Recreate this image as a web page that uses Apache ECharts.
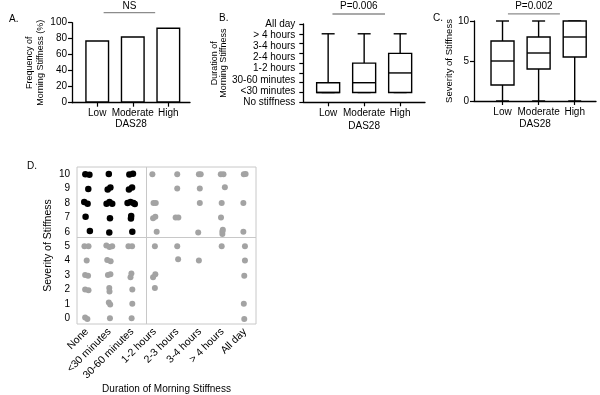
<!DOCTYPE html>
<html><head><meta charset="utf-8">
<script src="https://cdn.jsdelivr.net/npm/echarts@6/dist/echarts.min.js"></script>
<style>html,body{margin:0;padding:0;background:#fff}#c{width:600px;height:395px}</style>
</head><body><div id="c"></div>
<script>
// ---------- data ----------
const das28 = ['Low', 'Moderate', 'High'];
const freqPct = [78, 83, 94];
const durationLabels = ['No stiffness', '<30 minutes', '30-60 minutes', '1-2 hours', '2-4 hours', '3-4 hours', '> 4 hours', 'All day'];
// [min, q1, median, q3, max] on tick scale 0..8
const durationBoxes = [[1, 1, 1, 2, 7], [1, 1, 2, 4, 7], [1, 1, 3, 5, 7]];
const severityBoxes = [[0, 2, 5, 7.5, 10], [0, 4, 6, 8, 10], [0, 5.5, 8, 10, 10]];
const durationCats = ['None', '<30 minutes', '30-60 minutes', '1-2 hours', '2-3 hours', '3-4 hours', '> 4 hours', 'All day'];
const severityTicks = [0, 1, 2, 3, 4, 5, 6, 7, 8, 9, 10];
// significance brackets: [fromX, toX, lineY, textY]
const sigTexts = ['NS', 'P=0.006', 'P=0.002'];
const sigA = [[0.18, 1.63, 112.5, 120.5]];
const sigB = [[0.12, 1.58, 9.02, 9.85]];
const sigC = [[0.15, 1.59, 10.9, 11.9]];
// panel D points [duration index (jittered), severity (jittered)]
const blackPts = [
  [-0.07, 10.0], [0.11, 9.97], [0.97, 10.02], [1.88, 9.98], [2.04, 10.03],
  [0.06, 8.97], [0.92, 8.93], [1.04, 9.07], [1.86, 8.93], [2.0, 9.07],
  [-0.12, 8.07], [0.03, 7.95], [0.87, 7.95], [1.0, 8.07], [1.12, 7.95], [1.8, 8.0], [1.93, 8.07], [2.06, 8.0], [2.12, 7.93],
  [-0.06, 7.05], [1.02, 6.95], [1.95, 6.93], [1.96, 7.1],
  [0.13, 6.05], [0.99, 5.95], [2.01, 6.0]
];
const grayPts = [
  [2.9, 10.0], [2.95, 8.0], [3.05, 8.0], [2.93, 6.95], [3.03, 7.05], [3.09, 6.0], [3.01, 5.0], [2.93, 2.85], [3.03, 3.05], [3.01, 2.1],
  [4.0, 10.0], [4.0, 9.0], [3.93, 7.0], [4.05, 7.0], [4.0, 5.0], [4.04, 4.1],
  [4.96, 10.0], [5.04, 10.0], [5.0, 9.0], [5.0, 8.0], [4.93, 5.95], [4.96, 4.0],
  [5.93, 10.0], [6.05, 10.0], [6.11, 9.1], [5.97, 8.0], [5.94, 7.0], [6.0, 5.85], [6.0, 6.02], [6.02, 6.15], [5.97, 5.0],
  [6.95, 10.0], [7.03, 10.02], [6.93, 8.0], [6.93, 6.0], [7.0, 5.0], [7.0, 4.0], [6.97, 2.95], [6.95, 1.0], [6.97, -0.05],
  [-0.11, 5.0], [0.07, 5.0], [0.86, 5.05], [1.0, 4.95], [1.12, 5.0], [1.84, 5.0], [2.0, 5.0],
  [-0.01, 4.0], [0.9, 4.05], [1.05, 3.95],
  [-0.08, 3.0], [0.05, 2.95], [0.93, 3.0], [1.04, 3.05], [1.93, 2.85], [1.97, 3.1],
  [-0.08, 2.0], [0.07, 1.95], [0.99, 2.1], [1.0, 1.85], [2.01, 2.0],
  [0.97, 1.1], [1.03, 0.95], [2.01, 1.0],
  [-0.08, 0.05], [0.02, -0.05], [1.02, 0.0], [1.98, 0.0]
];
const dividerX = 2.65, dividerY = 5.65;

// ---------- rendering ----------
const FONT = "'Liberation Sans', Arial, sans-serif";
const txt = {color: '#000', fontFamily: FONT, fontSize: 10};
const blackLine = {onZero: false, lineStyle: {color: '#000', width: 1.3}};

function boxRender(params, api) {
  const x = api.value(0);
  const p = [1, 2, 3, 4, 5].map(i => api.coord([x, api.value(i)]));
  const [pMin, pQ1, pMd, pQ3, pMax] = p;
  const hw = 11.5, cw = 6.5;
  const st = {stroke: '#000', lineWidth: 1.4, fill: null};
  return {type: 'group', children: [
    {type: 'line', shape: {x1: pMax[0], y1: pMax[1], x2: pQ3[0], y2: pQ3[1]}, style: st},
    {type: 'line', shape: {x1: pMin[0], y1: pMin[1], x2: pQ1[0], y2: pQ1[1]}, style: st},
    {type: 'line', shape: {x1: pMax[0] - cw, y1: pMax[1], x2: pMax[0] + cw, y2: pMax[1]}, style: st},
    {type: 'line', shape: {x1: pMin[0] - cw, y1: pMin[1], x2: pMin[0] + cw, y2: pMin[1]}, style: st},
    {type: 'rect', shape: {x: pQ3[0] - hw, y: pQ3[1], width: 2 * hw, height: pQ1[1] - pQ3[1]}, style: {stroke: '#000', lineWidth: 1.4, fill: '#fff'}},
    {type: 'line', shape: {x1: pMd[0] - hw, y1: pMd[1], x2: pMd[0] + hw, y2: pMd[1]}, style: st}
  ]};
}
function sigRender(k) {
  return function (params, api) {
    const a = api.coord([api.value(0), api.value(2)]);
    const b = api.coord([api.value(1), api.value(2)]);
    const t = api.coord([(api.value(0) + api.value(1)) / 2, api.value(3)]);
    return {type: 'group', children: [
      {type: 'line', shape: {x1: a[0], y1: a[1], x2: b[0], y2: b[1]}, style: {stroke: '#8c8c8c', lineWidth: 1.3}},
      {type: 'text', style: {text: sigTexts[k], x: t[0], y: t[1], fill: '#000', fontSize: 10, fontFamily: FONT, align: 'center', verticalAlign: 'middle'}}
    ]};
  };
}
function catAxis(grid, min, max, cats, name, gap) {
  return {
    gridIndex: grid, type: 'value', min: min, max: max,
    axisLine: {show: true, ...blackLine},
    axisTick: {show: true, length: 4, customValues: cats.map((c, i) => i), lineStyle: {color: '#000', width: 1.2}},
    axisLabel: {customValues: cats.map((c, i) => i), formatter: v => cats[Math.round(v)], margin: 6, ...txt},
    splitLine: {show: false},
    name: name, nameLocation: 'middle', nameGap: gap, nameTextStyle: txt
  };
}

const option = {
  animation: false,
  backgroundColor: '#fff',
  title: [
    {text: 'A.', left: 4, top: 9, textStyle: {...txt, fontWeight: 'normal'}},
    {text: 'B.', left: 214, top: 8, textStyle: {...txt, fontWeight: 'normal'}},
    {text: 'C.', left: 428, top: 8, textStyle: {...txt, fontWeight: 'normal'}},
    {text: 'D.', left: 22, top: 156, textStyle: {...txt, fontWeight: 'normal'}}
  ],
  grid: [
    {left: 72, top: 22.7, width: 118, height: 80},
    {left: 303.3, top: 24, width: 121.7, height: 78.3},
    {left: 474, top: 21, width: 122, height: 80},
    {left: 77, top: 167, width: 179, height: 157, show: true, borderColor: '#c8c8c8', borderWidth: 1, backgroundColor: 'transparent'}
  ],
  xAxis: [
    catAxis(0, -0.71, 2.61, das28, 'DAS28', 16),
    catAxis(1, -0.69, 2.69, das28, 'DAS28', 19),
    catAxis(2, -0.79, 2.59, das28, 'DAS28', 18),
    {
      gridIndex: 3, type: 'value', min: -0.44, max: 7.49,
      axisLine: {show: false}, axisTick: {show: false}, splitLine: {show: false},
      axisLabel: {customValues: durationCats.map((c, i) => i), formatter: v => durationCats[Math.round(v)], rotate: 45, margin: 6, ...txt, fontSize: 10.5},
      name: 'Duration of Morning Stiffness', nameLocation: 'middle', nameGap: 60, nameTextStyle: txt
    }
  ],
  yAxis: [
    {
      gridIndex: 0, type: 'value', min: 0, max: 100, interval: 20, position: 'left',
      axisLine: {show: true, ...blackLine}, axisTick: {show: true, length: 4, lineStyle: {color: '#000', width: 1.2}},
      axisLabel: {margin: 5, ...txt}, splitLine: {show: false},
      name: 'Frequency of\nMorning Stiffness (%)', nameLocation: 'middle', nameGap: 24, nameRotate: 90,
      nameTextStyle: {...txt, fontSize: 9, lineHeight: 11}
    },
    {
      gridIndex: 1, type: 'value', min: 0, max: 8, interval: 1, position: 'left',
      axisLine: {show: true, ...blackLine}, axisTick: {show: true, length: 4, lineStyle: {color: '#000', width: 1.2}},
      axisLabel: {show: false}, splitLine: {show: false},
      name: 'Duration of\nMorning Stiffness', nameLocation: 'middle', nameGap: 75, nameRotate: 90,
      nameTextStyle: {...txt, fontSize: 9, lineHeight: 9}
    },
    {
      gridIndex: 1, type: 'value', min: 0, max: 7, interval: 1, position: 'left', offset: 0,
      axisLine: {show: false, onZero: false}, axisTick: {show: false}, splitLine: {show: false},
      axisLabel: {formatter: v => durationLabels[Math.round(v)], margin: 8, ...txt}
    },
    {
      gridIndex: 2, type: 'value', min: 0, max: 10, interval: 5, position: 'left',
      axisLine: {show: true, ...blackLine}, axisTick: {show: true, length: 4, lineStyle: {color: '#000', width: 1.2}},
      axisLabel: {margin: 5, ...txt}, splitLine: {show: false},
      name: 'Severity of Stiffness', nameLocation: 'middle', nameGap: 14, nameRotate: 90,
      nameTextStyle: {...txt, fontSize: 9.5}
    },
    {
      gridIndex: 3, type: 'value', min: -0.4, max: 10.5, position: 'left',
      axisLine: {show: false, onZero: false}, axisTick: {show: false}, splitLine: {show: false},
      axisLabel: {customValues: severityTicks, margin: 7, ...txt},
      name: 'Severity of Stiffness', nameLocation: 'middle', nameGap: 23, nameRotate: 90,
      nameTextStyle: {...txt, fontSize: 10.5}
    }
  ],
  series: [
    {
      type: 'bar', xAxisIndex: 0, yAxisIndex: 0, barWidth: 24,
      data: freqPct.map((v, i) => [i, v]),
      itemStyle: {color: '#fff', borderColor: '#000', borderWidth: 1.4}
    },
    {type: 'custom', xAxisIndex: 0, yAxisIndex: 0, renderItem: sigRender(0), data: sigA, clip: false},
    {type: 'custom', xAxisIndex: 1, yAxisIndex: 1, renderItem: boxRender, data: durationBoxes.map((b, i) => [i, ...b]), clip: false},
    {type: 'custom', xAxisIndex: 1, yAxisIndex: 1, renderItem: sigRender(1), data: sigB, clip: false},
    {type: 'custom', xAxisIndex: 2, yAxisIndex: 3, renderItem: boxRender, data: severityBoxes.map((b, i) => [i, ...b]), clip: false},
    {type: 'custom', xAxisIndex: 2, yAxisIndex: 3, renderItem: sigRender(2), data: sigC, clip: false},
    {
      type: 'scatter', xAxisIndex: 3, yAxisIndex: 4, data: grayPts, symbolSize: 6,
      itemStyle: {color: '#a3a3a3', opacity: 1},
      markLine: {
        silent: true, symbol: 'none', label: {show: false},
        lineStyle: {color: '#c8c8c8', width: 1, type: 'solid'},
        data: [{xAxis: dividerX}, {yAxis: dividerY}]
      }
    },
    {type: 'scatter', xAxisIndex: 3, yAxisIndex: 4, data: blackPts, symbolSize: 6.5, itemStyle: {color: '#000', opacity: 1}}
  ]
};
const chart = echarts.init(document.getElementById('c'), null, {renderer: 'canvas'});
chart.setOption(option);
</script>
</body></html>
